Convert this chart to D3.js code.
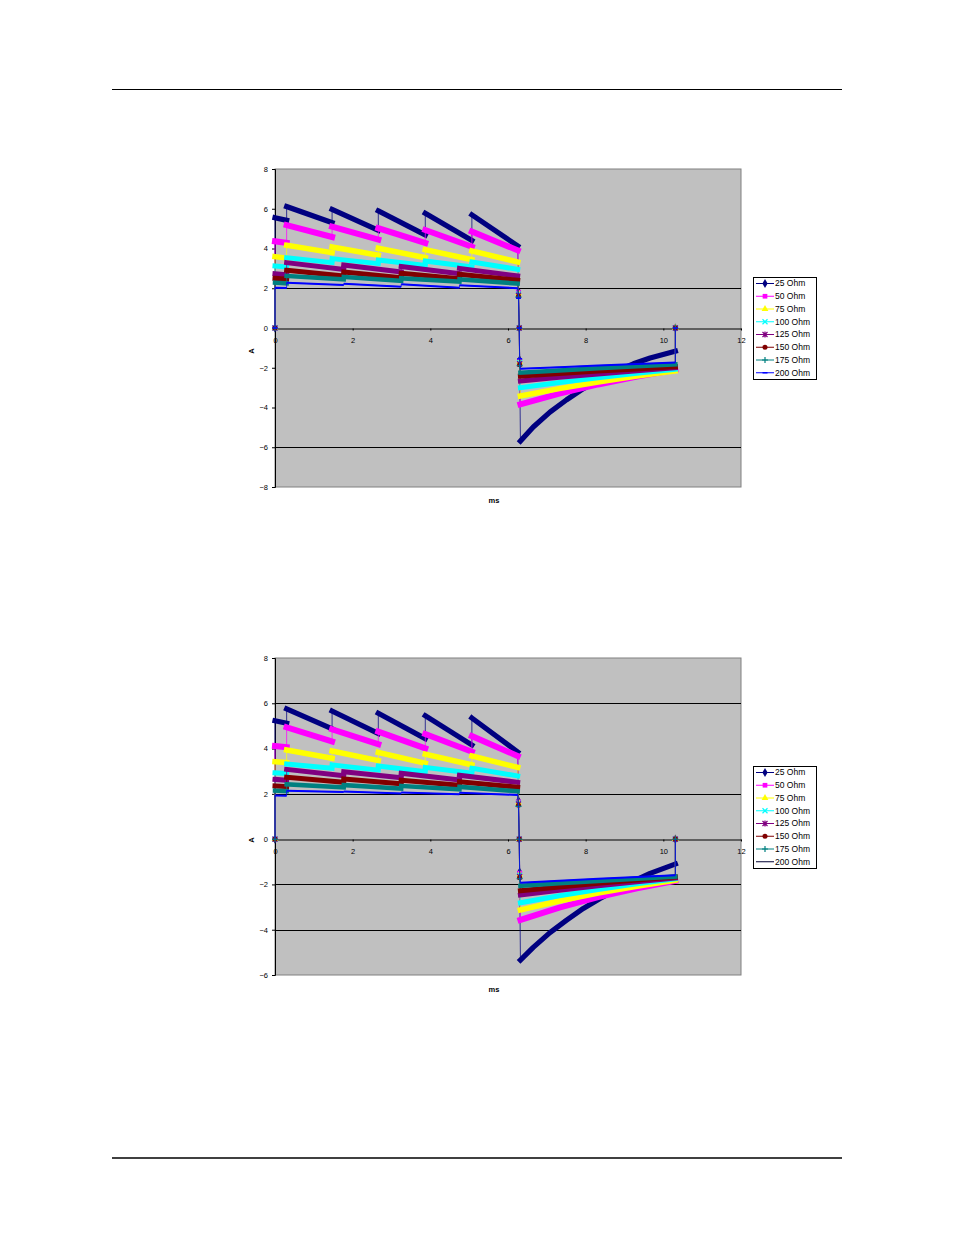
<!DOCTYPE html>
<html><head><meta charset="utf-8">
<script src="https://cdn.jsdelivr.net/npm/d3@7"></script>
<style>
body{margin:0;background:#fff}
svg{display:block}
text{font-family:"Liberation Sans",Arial,sans-serif;fill:#000}
</style>
</head><body>
<svg id="page" width="954" height="1235"></svg>
<script>
// ---------- data ----------
const seriesNames = ["25 Ohm","50 Ohm","75 Ohm","100 Ohm","125 Ohm","150 Ohm","175 Ohm","200 Ohm"];
const seriesColors = ["#000080","#FF00FF","#FFFF00","#00FFFF","#800080","#800000","#008080","#0000FF"];
const markerKinds1 = ["diamond","square","triangle","x","asterisk","circle","plus","dash"];
const markerKinds2 = ["diamond","square","triangle","x","asterisk","circle","plus","none"];
const bandWidths = [5.2, 6, 5.5, 5, 5, 5, 4.5, 2];
const xTicks = [0,2,4,6,8,10,12];
const yTicks1 = [-8,-6,-4,-2,0,2,4,6,8];
const yTicks2 = [-6,-4,-2,0,2,4,6,8];
const grid1 = [2,-6];
const grid2 = [6,2,-2,-4];

// chart 1 (upper) : [ms, A]
const c1_25  = [[0,0],[0,5.55],[0.3,5.42],[0.3,6.11],[1.47,5.30],[1.47,5.97],[2.66,4.92],[2.66,5.89],[3.87,4.68],[3.87,5.77],[5.07,4.41],[5.07,5.69],[6.25,4.13],[6.27,1.85],[6.29,0],[6.30,-1.6],[6.32,-5.69],[6.65,-4.98],[7.08,-4.23],[7.51,-3.61],[7.94,-3.05],[8.37,-2.58],[8.80,-2.16],[9.23,-1.80],[9.66,-1.51],[10.31,-1.17],[10.31,0]];
const c1_50  = [[0,0],[0,4.36],[0.3,4.28],[0.3,5.18],[1.47,4.58],[1.47,5.10],[2.66,4.45],[2.66,5.02],[3.87,4.28],[3.87,4.93],[5.07,4.09],[5.07,4.85],[6.25,3.91],[6.27,1.80],[6.29,0],[6.30,-1.65],[6.32,-3.84],[7.32,-3.30],[8.32,-2.84],[9.32,-2.44],[10.31,-2.10],[10.31,0]];
const c1_75  = [[0,0],[0,3.59],[0.3,3.52],[0.3,4.16],[1.47,3.79],[1.47,4.08],[2.66,3.66],[2.66,4.01],[3.87,3.54],[3.87,3.94],[5.07,3.44],[5.07,3.88],[6.25,3.32],[6.27,1.75],[6.29,0],[6.30,-1.70],[6.32,-3.42],[7.32,-3.05],[8.32,-2.72],[9.32,-2.42],[10.31,-2.16],[10.31,0]];
const c1_100 = [[0,0],[0,3.12],[0.3,3.07],[0.3,3.54],[1.47,3.29],[1.47,3.49],[2.66,3.24],[2.66,3.42],[3.87,3.15],[3.87,3.37],[5.07,3.07],[5.07,3.32],[6.25,2.95],[6.27,1.70],[6.29,0],[6.30,-1.75],[6.32,-3.00],[7.32,-2.74],[8.32,-2.50],[9.32,-2.28],[10.31,-2.08],[10.31,0]];
const c1_125 = [[0,0],[0,2.73],[0.3,2.68],[0.3,3.29],[1.77,2.95],[1.77,3.17],[3.25,2.82],[3.25,3.09],[4.75,2.73],[4.75,3.00],[6.25,2.62],[6.27,1.65],[6.29,0],[6.30,-1.80],[6.32,-2.67],[7.32,-2.48],[8.32,-2.31],[9.32,-2.15],[10.31,-2.00],[10.31,0]];
const c1_150 = [[0,0],[0,2.50],[0.3,2.46],[0.3,2.90],[1.77,2.62],[1.77,2.82],[3.25,2.53],[3.25,2.75],[4.75,2.48],[4.75,2.70],[6.25,2.40],[6.27,1.60],[6.29,0],[6.30,-1.85],[6.32,-2.42],[7.32,-2.29],[8.32,-2.17],[9.32,-2.06],[10.31,-1.95],[10.31,0]];
const c1_175 = [[0,0],[0,2.28],[0.3,2.25],[0.3,2.62],[1.77,2.45],[1.77,2.57],[3.25,2.37],[3.25,2.50],[4.75,2.33],[4.75,2.45],[6.25,2.23],[6.27,1.55],[6.29,0],[6.30,-1.90],[6.32,-2.25],[7.32,-2.14],[8.32,-2.03],[9.32,-1.93],[10.31,-1.83],[10.31,0]];
const c1_200 = [[0,0],[0,2.03],[0.3,2.01],[0.3,2.28],[1.77,2.16],[1.77,2.23],[3.25,2.08],[3.25,2.20],[4.75,2.03],[4.75,2.15],[6.25,2.00],[6.27,1.50],[6.29,0],[6.30,-1.55],[6.32,-2.05],[7.32,-1.97],[8.32,-1.89],[9.32,-1.81],[10.31,-1.74],[10.31,0]];

// chart 2 (lower)
const c2_25  = [[0,0],[0,5.23],[0.3,5.12],[0.3,5.75],[1.47,4.87],[1.47,5.66],[2.66,4.67],[2.66,5.56],[3.87,4.44],[3.87,5.45],[5.07,4.16],[5.07,5.35],[6.25,3.85],[6.27,1.70],[6.29,0],[6.30,-1.45],[6.32,-5.34],[6.65,-4.78],[7.08,-4.13],[7.51,-3.58],[7.94,-3.06],[8.37,-2.62],[8.80,-2.22],[9.23,-1.85],[9.66,-1.51],[10.31,-1.10],[10.31,0]];
const c2_50  = [[0,0],[0,4.11],[0.3,4.06],[0.3,4.94],[1.47,4.31],[1.47,4.85],[2.66,4.19],[2.66,4.75],[3.87,4.01],[3.87,4.64],[5.07,3.86],[5.07,4.55],[6.25,3.67],[6.27,1.65],[6.29,0],[6.30,-1.50],[6.32,-3.57],[7.32,-3.02],[8.32,-2.56],[9.32,-2.17],[10.31,-1.84],[10.31,0]];
const c2_75  = [[0,0],[0,3.42],[0.3,3.38],[0.3,3.94],[1.47,3.57],[1.47,3.89],[2.66,3.47],[2.66,3.83],[3.87,3.35],[3.87,3.75],[5.07,3.28],[5.07,3.67],[6.25,3.17],[6.27,1.62],[6.29,0],[6.30,-1.55],[6.32,-3.13],[7.32,-2.73],[8.32,-2.38],[9.32,-2.08],[10.31,-1.81],[10.31,0]];
const c2_100 = [[0,0],[0,2.93],[0.3,2.90],[0.3,3.32],[1.47,3.13],[1.47,3.28],[2.66,3.05],[2.66,3.23],[3.87,2.98],[3.87,3.17],[5.07,2.91],[5.07,3.13],[6.25,2.79],[6.27,1.58],[6.29,0],[6.30,-1.60],[6.32,-2.81],[7.32,-2.50],[8.32,-2.22],[9.32,-1.97],[10.31,-1.75],[10.31,0]];
const c2_125 = [[0,0],[0,2.64],[0.3,2.60],[0.3,3.08],[1.77,2.80],[1.77,2.98],[3.25,2.71],[3.25,2.91],[4.75,2.61],[4.75,2.82],[6.25,2.51],[6.27,1.55],[6.29,0],[6.30,-1.65],[6.32,-2.47],[7.32,-2.26],[8.32,-2.06],[9.32,-1.88],[10.31,-1.72],[10.31,0]];
const c2_150 = [[0,0],[0,2.35],[0.3,2.32],[0.3,2.73],[1.77,2.51],[1.77,2.66],[3.25,2.44],[3.25,2.60],[4.75,2.38],[4.75,2.54],[6.25,2.29],[6.27,1.50],[6.29,0],[6.30,-1.70],[6.32,-2.28],[7.32,-2.11],[8.32,-1.95],[9.32,-1.81],[10.31,-1.67],[10.31,0]];
const c2_175 = [[0,0],[0,2.14],[0.3,2.12],[0.3,2.42],[1.77,2.29],[1.77,2.39],[3.25,2.23],[3.25,2.35],[4.75,2.20],[4.75,2.31],[6.25,2.11],[6.27,1.45],[6.29,0],[6.30,-1.75],[6.32,-2.06],[7.32,-1.95],[8.32,-1.85],[9.32,-1.75],[10.31,-1.66],[10.31,0]];
const c2_200 = [[0,0],[0,1.93],[0.3,1.92],[0.3,2.14],[1.77,2.08],[1.77,2.10],[3.25,2.02],[3.25,2.06],[4.75,1.98],[4.75,2.05],[6.25,1.95],[6.27,1.42],[6.29,0],[6.30,-1.40],[6.32,-1.93],[7.32,-1.84],[8.32,-1.75],[9.32,-1.67],[10.31,-1.59],[10.31,0]];

const chart1Series = [c1_25,c1_50,c1_75,c1_100,c1_125,c1_150,c1_175,c1_200];
const chart2Series = [c2_25,c2_50,c2_75,c2_100,c2_125,c2_150,c2_175,c2_200];

// ---------- drawing ----------
const svg = d3.select("#page");

// page rules
svg.append("line").attr("x1",112).attr("x2",842).attr("y1",89.5).attr("y2",89.5).attr("stroke","#000").attr("stroke-width",1);
svg.append("line").attr("x1",112).attr("x2",842).attr("y1",1158).attr("y2",1158).attr("stroke","#000").attr("stroke-width",1.5);

function drawMarker(g, kind, x, y, color) {
  const t = `translate(${x},${y})`;
  if (kind === "none") return;
  if (kind === "diamond") g.append("path").attr("d", d3.symbol(d3.symbolDiamond, 24)()).attr("transform", t).attr("fill", color);
  else if (kind === "square") g.append("path").attr("d", d3.symbol(d3.symbolSquare, 22)()).attr("transform", t).attr("fill", color);
  else if (kind === "triangle") g.append("path").attr("d", d3.symbol(d3.symbolTriangle, 20)()).attr("transform", t).attr("fill", color);
  else if (kind === "circle") g.append("path").attr("d", d3.symbol(d3.symbolCircle, 20)()).attr("transform", t).attr("fill", color);
  else if (kind === "x") g.append("path").attr("d","M-2.5,-2.5L2.5,2.5M-2.5,2.5L2.5,-2.5").attr("transform", t).attr("stroke", color).attr("stroke-width",1.2).attr("fill","none");
  else if (kind === "asterisk") g.append("path").attr("d","M-2.5,-2.5L2.5,2.5M-2.5,2.5L2.5,-2.5M0,-3V3").attr("transform", t).attr("stroke", color).attr("stroke-width",1.2).attr("fill","none");
  else if (kind === "plus") g.append("path").attr("d","M-3,0H3M0,-3V3").attr("transform", t).attr("stroke", color).attr("stroke-width",1.2).attr("fill","none");
  else if (kind === "dash") g.append("path").attr("d","M-2.5,0H2.5").attr("transform", t).attr("stroke", color).attr("stroke-width",1.5).attr("fill","none");
}

function drawChart(cfg) {
  const x = d3.scaleLinear().domain([0,12]).range([275,741]);
  const y = d3.scaleLinear().domain(cfg.yDomain).range([cfg.bottom, cfg.top]);
  const g = svg.append("g");

  // plot area
  g.append("rect").attr("x",x(0)).attr("y",y(cfg.yDomain[1])).attr("width",x(12)-x(0)).attr("height",y(cfg.yDomain[0])-y(cfg.yDomain[1]))
    .attr("fill","#C0C0C0").attr("stroke","#808080").attr("stroke-width",1);

  // gridlines
  g.selectAll(".grid").data(cfg.grid).enter().append("line")
    .attr("x1",x(0)).attr("x2",x(12)).attr("y1",d=>Math.round(y(d))+0.5).attr("y2",d=>Math.round(y(d))+0.5)
    .attr("stroke","#000").attr("stroke-width",1);

  // y axis
  const yAxis = d3.axisLeft(y).tickValues(cfg.yTicks).tickSize(3).tickPadding(4).tickFormat(d3.format("d"));
  const ya = g.append("g").attr("transform",`translate(${x(0)},0)`).call(yAxis);
  ya.select(".domain").attr("stroke","#000");
  ya.selectAll(".tick line").attr("stroke","#000");
  ya.selectAll("text").attr("font-size",7.5).attr("font-family","Liberation Sans, Arial, sans-serif").attr("fill","#000");

  // x axis at y=0
  const xAxis = d3.axisBottom(x).tickValues(xTicks).tickSize(2).tickPadding(7).tickSizeOuter(0).tickFormat(d3.format("d"));
  const xa = g.append("g").attr("transform",`translate(0,${Math.round(y(0))+0.5})`).call(xAxis);
  xa.select(".domain").attr("stroke","#000");
  xa.selectAll(".tick line").attr("stroke","#000");
  xa.selectAll("text").attr("font-size",7.5).attr("font-family","Liberation Sans, Arial, sans-serif").attr("fill","#000");

  // axis titles
  g.append("text").attr("transform",`translate(${cfg.aPos[0]},${cfg.aPos[1]}) rotate(-90)`).attr("text-anchor","middle")
    .attr("font-size",7.5).attr("font-weight","bold").text("A");
  g.append("text").attr("x",cfg.msPos[0]).attr("y",cfg.msPos[1]).attr("text-anchor","middle")
    .attr("font-size",7.5).attr("font-weight","bold").text("ms");

  // series
  const line = d3.line().x(d=>x(d[0])).y(d=>y(d[1]));
  const plot = g.append("g");
  cfg.series.forEach((pts, si) => {
    const col = seriesColors[si];
    const sg = plot.append("g");
    sg.append("path").attr("d", line(pts)).attr("fill","none").attr("stroke",col).attr("stroke-width",1).attr("stroke-opacity",0.75);
    // thick runs (dense marker bands)
    const runs = []; let cur = null;
    for (let i = 0; i < pts.length-1; i++) {
      if (pts[i+1][0] - pts[i][0] > 0.025) {
        if (!cur) { cur = [pts[i]]; runs.push(cur); }
        cur.push(pts[i+1]);
      } else cur = null;
    }
    runs.forEach(r => {
      sg.append("path").attr("d", line(r)).attr("fill","none").attr("stroke",col)
        .attr("stroke-width",bandWidths[si]).attr("stroke-linecap", si===7 ? "butt" : "square").attr("stroke-linejoin","round");
    });
    // isolated markers
    pts.forEach((p, i) => {
      const prevThick = i>0 && p[0]-pts[i-1][0] > 0.025;
      const nextThick = i<pts.length-1 && pts[i+1][0]-p[0] > 0.025;
      if (!prevThick && !nextThick) drawMarker(sg, cfg.markers[si], x(p[0]), y(p[1]), col);
    });
  });

  // legend
  const lg = g.append("g");
  lg.append("rect").attr("x",753.5).attr("y",cfg.legendTop+0.5).attr("width",63).attr("height",102).attr("fill","#fff").attr("stroke","#000").attr("stroke-width",1);
  seriesNames.forEach((nm, i) => {
    const yy = cfg.legendTop + 6.5 + i*12.75;
    const lc = cfg.legendLineColors[i];
    lg.append("line").attr("x1",756).attr("x2",774).attr("y1",yy).attr("y2",yy).attr("stroke",lc).attr("stroke-width",1);
    drawMarker(lg, cfg.markers[i], 765, yy, seriesColors[i]);
    lg.append("text").attr("x",775).attr("y",yy).attr("dy","0.35em").attr("font-size",8.5).text(nm);
  });
}

drawChart({
  yDomain:[-8,8], top:169, bottom:487, yTicks:yTicks1, grid:grid1,
  series:chart1Series, markers:markerKinds1, legendTop:277,
  legendLineColors: seriesColors,
  aPos:[254,351], msPos:[494,503]
});
drawChart({
  yDomain:[-6,8], top:658, bottom:975, yTicks:yTicks2, grid:grid2,
  series:chart2Series, markers:markerKinds2, legendTop:766,
  legendLineColors: seriesColors.slice(0,7).concat(["#000033"]),
  aPos:[254,840], msPos:[494,992]
});
</script>
</body></html>
